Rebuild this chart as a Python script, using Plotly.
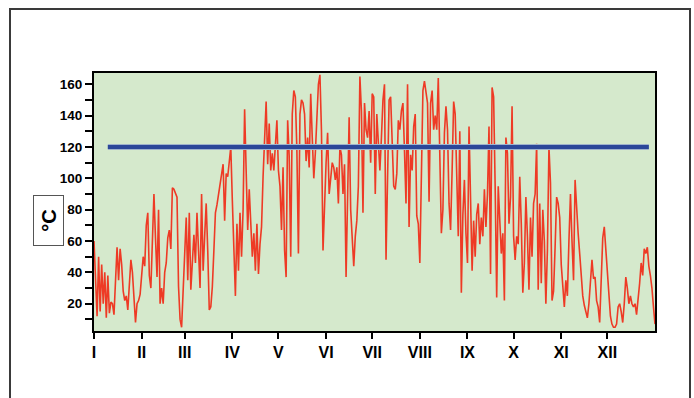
import plotly.graph_objects as go

# ---- data ----
month_starts = [0, 31, 59, 90, 120, 151, 181, 212, 243, 273, 304, 334]
month_labels = ["I", "II", "III", "IV", "V", "VI", "VII", "VIII", "IX", "X", "XI", "XII"]

temps = [
    60, 30, 12, 50, 15, 45, 20, 40, 11, 38,
    14, 21, 20, 13, 40, 56, 35, 55, 45, 28,
    22, 25, 16, 35, 48, 40, 22, 8, 20, 22,
    26, 36, 50, 44, 70, 78, 38, 30, 58, 90,
    62, 37, 80, 20, 30, 20, 40, 46, 62, 67,
    55, 94, 93, 91, 88, 31, 10, 5, 29, 50,
    75, 35, 78, 29, 44, 64, 46, 78, 54, 30,
    90, 41, 63, 84,
    54, 16, 18, 31, 54, 78, 83, 90, 98, 105,
    109, 73, 103, 101, 111, 120, 86, 60, 25, 71,
    41, 78, 50, 80, 144, 105, 67, 93, 69, 50,
    65, 41, 71, 39, 58, 69, 101, 131, 149, 109,
    135, 105, 116, 105, 118, 137, 105, 95, 67, 107,
    54, 37, 137, 114, 50, 141, 156, 152, 118, 52,
    141, 150, 148, 141, 111, 126, 107, 154, 126, 100,
    116, 139, 160,
    166, 130, 54, 90, 110, 129, 90, 100, 110, 107,
    99, 107, 84, 120, 115, 90, 109, 37, 88, 139,
    80, 60, 44, 63, 73, 95, 165, 143, 78, 148,
    131, 126, 143, 110, 154, 152, 90, 141, 118, 105,
    126, 150, 160, 48, 100, 150, 152, 126, 95, 93,
    103, 137, 131, 143, 148, 118, 84, 160, 69, 115,
    105, 133, 141, 76, 71, 46, 116, 156, 162, 154,
    148, 85, 148,
    156, 131, 140, 131, 164, 100, 65, 80, 129, 146,
    131, 84, 67, 105, 149, 141, 103, 63, 130, 27,
    77, 99, 65, 46, 133, 88, 41, 73, 50, 77,
    84, 58, 75, 63, 93, 69, 90, 133, 39, 158,
    152, 95, 24, 95, 77, 52, 65, 22, 126, 116,
    71, 88, 146, 63, 48, 63, 58, 101, 71, 27,
    46, 88, 63, 29, 75, 50, 84, 90, 122, 29,
    84, 33, 80, 60, 20, 54, 120, 97, 22, 28,
    56, 88, 84, 75, 45, 28, 18, 35, 25, 60,
    90, 60, 35, 99, 78, 65, 52, 36, 25, 19,
    15, 11, 20, 38, 48, 36, 37, 22, 18, 8,
    30, 62, 69, 56, 37, 25, 12, 7, 5, 5,
    7, 18, 20, 15, 8, 20, 37, 30, 20, 25,
    20, 18, 20, 13, 22, 33, 46, 38, 55, 52,
    56, 44, 38, 30, 18, 7,
]
days = list(range(len(temps)))

threshold_value = 120
threshold_days = [9, 361]

# ---- figure ----
W, H = 694, 398
L, R, T, B = 94, 39, 73, 67
pw, ph = W - L - R, H - T - B

def px_x(p):
    return (p - L) / pw

def px_y(p):
    return (H - B - p) / ph

fig = go.Figure()
fig.add_trace(go.Scatter(x=days, y=temps, mode="lines",
                         line=dict(color="#ee3a25", width=1.6),
                         hoverinfo="skip", showlegend=False))
fig.add_trace(go.Scatter(x=threshold_days, y=[threshold_value] * 2, mode="lines",
                         line=dict(color="#9fb2cc", width=6),
                         hoverinfo="skip", showlegend=False))
fig.add_trace(go.Scatter(x=threshold_days, y=[threshold_value] * 2, mode="lines",
                         line=dict(color="#2b4799", width=4),
                         hoverinfo="skip", showlegend=False))

fig.update_layout(
    width=W, height=H,
    margin=dict(l=L, r=R, t=T, b=B),
    paper_bgcolor="white",
    plot_bgcolor="#d5e9cc",
    showlegend=False,
    font=dict(family="Liberation Sans, Arial, sans-serif", color="black"),
)

fig.update_xaxes(
    range=[0, 365],
    tickmode="array", tickvals=month_starts, ticktext=month_labels,
    ticks="outside", ticklen=6, tickwidth=2, tickcolor="black",
    tickfont=dict(size=16, weight="bold", color="black"),
    showline=True, linewidth=2, linecolor="black", mirror=True,
    showgrid=False, zeroline=False,
)
fig.update_yaxes(
    range=[2.6, 167.2],
    tickmode="linear", tick0=0, dtick=20,
    ticks="outside", ticklen=7, tickwidth=2, tickcolor="black",
    tickfont=dict(size=13.5, weight="bold", color="black"),
    minor=dict(tick0=0, dtick=10, ticks="outside", ticklen=7, tickwidth=2, tickcolor="black"),
    showline=True, linewidth=2, linecolor="black", mirror=True,
    showgrid=False, zeroline=False,
)

# outer frame
fig.add_shape(type="rect", xref="paper", yref="paper",
              x0=px_x(10), x1=px_x(690), y0=px_y(410), y1=px_y(9),
              line=dict(color="#3a3a3a", width=2), layer="below")

# axis title box
fig.add_annotation(xref="paper", yref="paper", x=px_x(48.5), y=px_y(220.5),
                   xanchor="center", yanchor="middle",
                   text="°C", textangle=-90, showarrow=False,
                   font=dict(size=20, color="black", weight="bold"),
                   width=49, height=29, bgcolor="white",
                   bordercolor="#555555", borderwidth=1, borderpad=0)

fig.write_html("out.html", config={"displayModeBar": False},
               post_script="document.body.style.margin='0';document.body.style.overflow='hidden';")
